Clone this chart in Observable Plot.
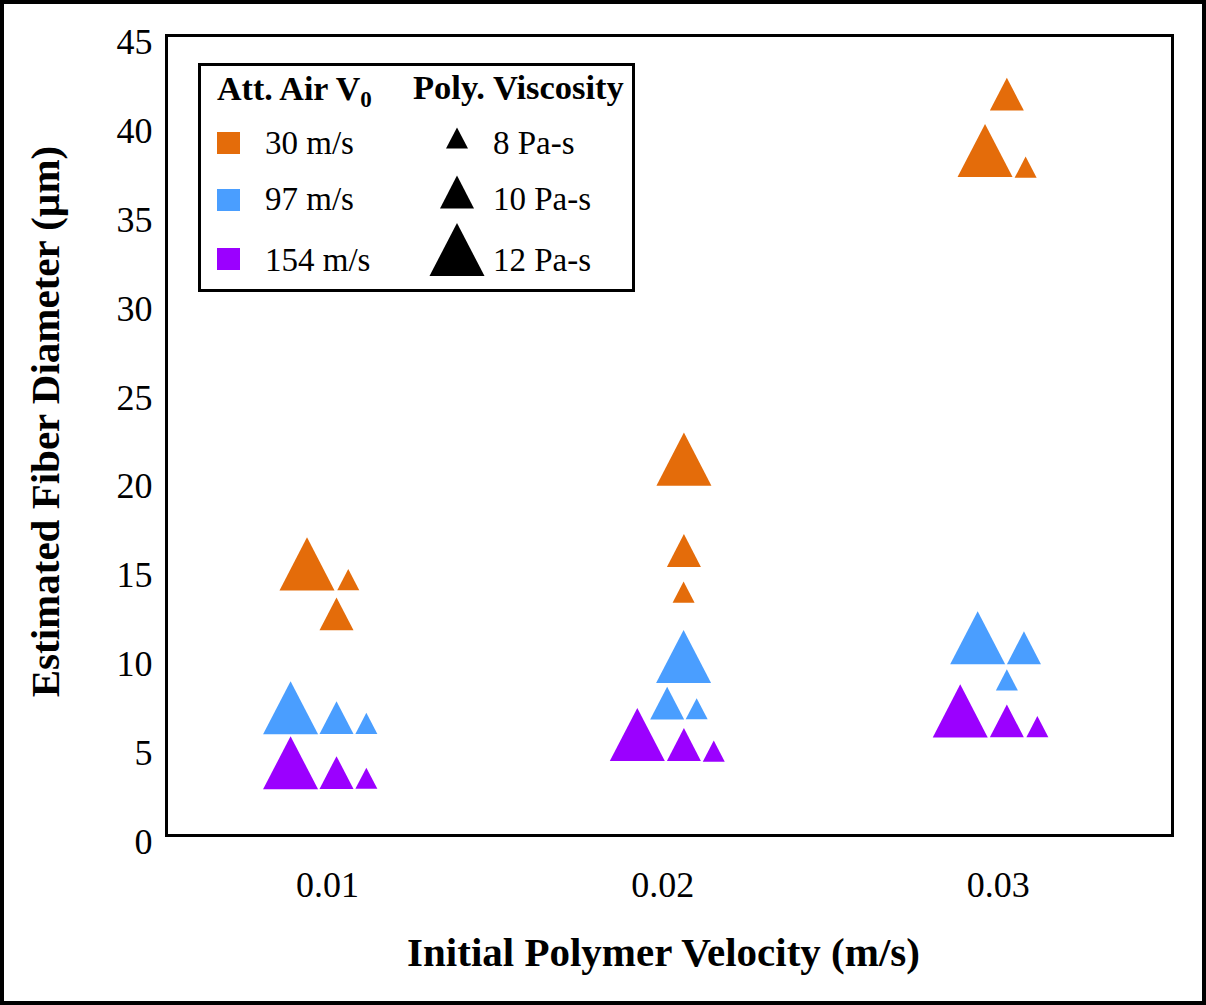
<!DOCTYPE html>
<html><head><meta charset="utf-8">
<script src="https://cdn.jsdelivr.net/npm/d3@7"></script>
<script src="https://cdn.jsdelivr.net/npm/@observablehq/plot@0.6"></script>
<style>
html,body{margin:0;padding:0;background:#fff;}
#wrap{position:relative;width:1206px;height:1005px;overflow:hidden;background:#fff;font-family:"Liberation Serif","Times New Roman",serif;}
#wrap::after{content:"";position:absolute;left:0;top:0;right:0;bottom:0;border:4px solid #000;pointer-events:none;}
#legend{position:absolute;left:198px;top:63px;width:437px;height:229px;box-sizing:border-box;border:3px solid #000;background:#fff;}
#legend svg{position:absolute;left:-3px;top:-3px;overflow:visible;}
</style></head><body><div id="wrap"></div>
<script>
// ---- data ----
const airSpeeds = ["30 m/s", "97 m/s", "154 m/s"];
const viscosities = [8, 10, 12];
const viscosityLabels = ["8 Pa-s", "10 Pa-s", "12 Pa-s"];
const xTicks = [0.01, 0.02, 0.03];
const yTicks = [0, 5, 10, 15, 20, 25, 30, 35, 40, 45];

const pointViscosity = [12, 10, 8, 12, 10, 8, 12, 10, 8];

const air30Velocity = [0.00939, 0.01027, 0.01062, 0.02063, 0.02063, 0.02062, 0.02961, 0.03026, 0.03082];
const air30Diameter = [15.28, 12.47, 14.39, 21.17, 16.03, 13.69, 38.53, 41.70, 37.59];

const air97Velocity = [0.00890, 0.01027, 0.01116, 0.02062, 0.02013, 0.02101, 0.02939, 0.03077, 0.03026];
const air97Diameter = [7.19, 6.63, 6.31, 10.07, 7.45, 7.13, 11.12, 10.56, 8.76];

const air154Velocity = [0.00890, 0.01027, 0.01116, 0.01924, 0.02063, 0.02152, 0.02887, 0.03026, 0.03117];
const air154Diameter = [4.09, 3.54, 3.22, 5.68, 5.12, 4.74, 7.01, 6.45, 6.12];

// ---- styling ----
const airColors = ["#E46C0A", "#4A9EFF", "#9B00FF"];
const radiusRange = [11, 17, 27.5];
const TRI_H = 1.93;
const FONT = '"Liberation Serif","Times New Roman",serif';

const series = [
  [airSpeeds[0], air30Velocity, air30Diameter],
  [airSpeeds[1], air97Velocity, air97Diameter],
  [airSpeeds[2], air154Velocity, air154Diameter]
];
const rows = [];
for (const [air, vx, dy] of series) {
  vx.forEach((v, i) => rows.push({air, velocity: v, diameter: dy[i], viscosity: pointViscosity[i]}));
}

// triangle marker centred on its bounding box (like spreadsheet markers)
const triangle = {
  draw(ctx, size) {
    const r = Math.sqrt(size / Math.PI);
    const h = r * TRI_H;
    ctx.moveTo(0, -h / 2);
    ctx.lineTo(r, h / 2);
    ctx.lineTo(-r, h / 2);
    ctx.closePath();
  }
};

const chart = Plot.plot({
  width: 1206,
  height: 1005,
  marginLeft: 166,
  marginRight: 34,
  marginTop: 35,
  marginBottom: 170,
  style: {fontFamily: FONT, background: "transparent", color: "#000", overflow: "visible"},
  x: {domain: [0.0052, 0.0352]},
  y: {domain: [0, 45]},
  r: {type: "linear", domain: viscosities, range: radiusRange},
  color: {domain: airSpeeds, range: airColors},
  marks: [
    Plot.axisX(xTicks, {tickSize: 0, tickPadding: 36, fontSize: 36, label: null, tickFormat: d3.format(".2f")}),
    Plot.axisY(yTicks, {tickSize: 0, tickPadding: 14, fontSize: 36, label: null, dy: 7}),
    Plot.dot(rows, {x: "velocity", y: "diameter", r: "viscosity", fill: "air", stroke: null, symbol: triangle, sort: null}),
    Plot.frame({stroke: "#000", strokeWidth: 3}),
    Plot.text(["Initial Polymer Velocity (m/s)"], {frameAnchor: "bottom", dy: 117, dx: -6, fontSize: 41, fontWeight: "bold", lineAnchor: "middle"}),
    Plot.text(["Estimated Fiber Diameter (µm)"], {frameAnchor: "left", rotate: -90, dx: -121, dy: -14, fontSize: 41, fontWeight: "bold", lineAnchor: "middle", textAnchor: "middle"})
  ]
});

const wrap = document.getElementById("wrap");
wrap.appendChild(chart);

// ---- legend inside the plot ----
const legendDiv = document.createElement("div");
legendDiv.id = "legend";
wrap.appendChild(legendDiv);
const lg = d3.select(legendDiv).append("svg").attr("width", 437).attr("height", 229)
  .style("font-family", FONT);

const head1 = lg.append("text").attr("x", 19).attr("y", 37).attr("font-size", 34).attr("font-weight", "bold");
head1.append("tspan").text("Att. Air V");
head1.append("tspan").attr("dy", 7).attr("font-size", 23).text("0");

lg.append("text").attr("x", 215).attr("y", 36).attr("font-size", 34.5).attr("font-weight", "bold").text("Poly. Viscosity");

const rowBase = [91, 147, 208];
const squareTop = [69, 126, 185];
airSpeeds.forEach((a, i) => {
  lg.append("rect").attr("x", 19).attr("y", squareTop[i]).attr("width", 23).attr("height", 22).attr("fill", airColors[i]);
  lg.append("text").attr("x", 67).attr("y", rowBase[i]).attr("font-size", 33).text(a);
});

const triCenter = [75, 129, 186.5];
viscosityLabels.forEach((v, i) => {
  const r = radiusRange[i], h = r * TRI_H;
  lg.append("path").attr("transform", `translate(259,${triCenter[i]})`)
    .attr("d", `M0,${-h / 2}L${r},${h / 2}L${-r},${h / 2}Z`).attr("fill", "#000");
  lg.append("text").attr("x", 295).attr("y", rowBase[i]).attr("font-size", 33).text(v);
});
</script></body></html>
